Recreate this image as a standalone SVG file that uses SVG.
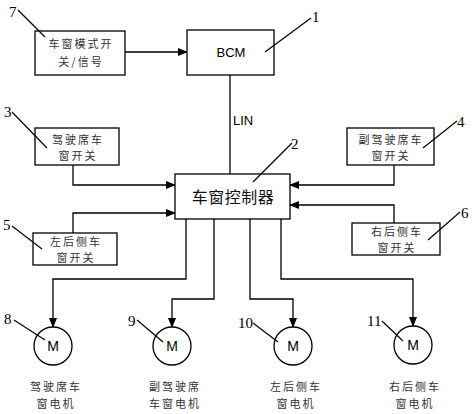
<svg xmlns="http://www.w3.org/2000/svg" width="474" height="414" viewBox="0 0 474 414">
<defs>
<marker id="arr" markerWidth="10" markerHeight="8" refX="9" refY="4" orient="auto" markerUnits="userSpaceOnUse">
<path d="M0,0 L10,4 L0,8 Z" fill="#000"/>
</marker>
<style>
.box{fill:#fff;stroke:#000;stroke-width:1.3}
.ln{fill:none;stroke:#000;stroke-width:1.3}
.ld{fill:none;stroke:#000;stroke-width:1.2}
.cn{font-family:"Noto Sans CJK SC","Noto Sans CJK JP",sans-serif;font-size:11px;fill:#333;text-anchor:middle;letter-spacing:2px}
.num{font-family:"Liberation Serif",serif;font-size:15px;fill:#000}
.lat{font-family:"Liberation Sans",Arial,sans-serif;fill:#000}
</style>
</defs>
<rect width="474" height="414" fill="#fff"/>
<g id="connectors">
<line class="ln" x1="125" y1="52" x2="187" y2="52" marker-end="url(#arr)"/>
<line class="ln" x1="230" y1="75" x2="230" y2="174"/>
<polyline class="ln" points="73,165 73,185 175,185" marker-end="url(#arr)"/>
<polyline class="ln" points="73,233 73,213 175,213" marker-end="url(#arr)"/>
<polyline class="ln" points="394,165 394,185 290,185" marker-end="url(#arr)"/>
<polyline class="ln" points="394,223 394,205 290,205" marker-end="url(#arr)"/>
<polyline class="ln" points="186,219 186,279 53,279 53,327" marker-end="url(#arr)"/>
<polyline class="ln" points="214,219 214,299 172,299 172,327" marker-end="url(#arr)"/>
<polyline class="ln" points="250,219 250,299 293,299 293,327" marker-end="url(#arr)"/>
<polyline class="ln" points="281,219 281,279 413,279 413,326" marker-end="url(#arr)"/>
<text class="lat" x="233" y="125" font-size="13">LIN</text>
</g>
<g id="n7">
<rect class="box" x="35" y="31" width="90" height="44"/>
<text class="cn" x="81" y="48">车窗模式开</text>
<text class="cn" x="81" y="66">关/信号</text>
<line class="ld" x1="18" y1="10" x2="45" y2="37"/>
<text class="num" x="9" y="17">7</text>
</g>
<g id="n1">
<rect class="box" x="187" y="30" width="87" height="45"/>
<text class="lat" x="231" y="57" font-size="13" text-anchor="middle">BCM</text>
<line class="ld" x1="265" y1="52" x2="311" y2="18"/>
<text class="num" x="312" y="22">1</text>
</g>
<g id="n2">
<rect class="box" x="175" y="174" width="115" height="45"/>
<text class="cn" x="233" y="203" style="font-size:16px;letter-spacing:0.5px;fill:#111">车窗控制器</text>
<line class="ld" x1="253" y1="182" x2="292" y2="143"/>
<text class="num" x="291" y="149">2</text>
</g>
<g id="n3">
<rect class="box" x="35" y="128" width="84" height="37"/>
<text class="cn" x="78" y="144">驾驶席车</text>
<text class="cn" x="78" y="160">窗开关</text>
<line class="ld" x1="12" y1="112" x2="47" y2="148"/>
<text class="num" x="4" y="117">3</text>
</g>
<g id="n4">
<rect class="box" x="347" y="128" width="87" height="37"/>
<text class="cn" x="391" y="144">副驾驶席车</text>
<text class="cn" x="391" y="160">窗开关</text>
<line class="ld" x1="423" y1="148" x2="457" y2="121"/>
<text class="num" x="457" y="127">4</text>
</g>
<g id="n5">
<rect class="box" x="33" y="233" width="84" height="32"/>
<text class="cn" x="76" y="246">左后侧车</text>
<text class="cn" x="76" y="262">窗开关</text>
<line class="ld" x1="12" y1="226" x2="42" y2="249"/>
<text class="num" x="3" y="230">5</text>
</g>
<g id="n6">
<rect class="box" x="352" y="223" width="88" height="32"/>
<text class="cn" x="397" y="236">右后侧车</text>
<text class="cn" x="397" y="252">窗开关</text>
<line class="ld" x1="428" y1="240" x2="460" y2="212"/>
<text class="num" x="461" y="218">6</text>
</g>
<g id="n8">
<circle class="box" cx="53" cy="346" r="19"/>
<text class="lat" x="53" y="351" font-size="14" text-anchor="middle">M</text>
<line class="ld" x1="14" y1="320" x2="45" y2="340"/>
<text class="num" x="4" y="324">8</text>
<text class="cn" x="56" y="391">驾驶席车</text>
<text class="cn" x="56" y="408">窗电机</text>
</g>
<g id="n9">
<circle class="box" cx="172" cy="346" r="19"/>
<text class="lat" x="172" y="351" font-size="14" text-anchor="middle">M</text>
<line class="ld" x1="137" y1="320" x2="163" y2="342"/>
<text class="num" x="128" y="326">9</text>
<text class="cn" x="175" y="391">副驾驶席</text>
<text class="cn" x="175" y="408">车窗电机</text>
</g>
<g id="n10">
<circle class="box" cx="293" cy="346" r="19"/>
<text class="lat" x="293" y="351" font-size="14" text-anchor="middle">M</text>
<line class="ld" x1="253" y1="323" x2="278" y2="342"/>
<text class="num" x="238" y="328">10</text>
<text class="cn" x="296" y="391">左后侧车</text>
<text class="cn" x="296" y="408">窗电机</text>
</g>
<g id="n11">
<circle class="box" cx="413" cy="345" r="19"/>
<text class="lat" x="413" y="350" font-size="14" text-anchor="middle">M</text>
<line class="ld" x1="382" y1="321" x2="403" y2="341"/>
<text class="num" x="367" y="326">11</text>
<text class="cn" x="415" y="391">右后侧车</text>
<text class="cn" x="415" y="408">窗电机</text>
</g>
</svg>
